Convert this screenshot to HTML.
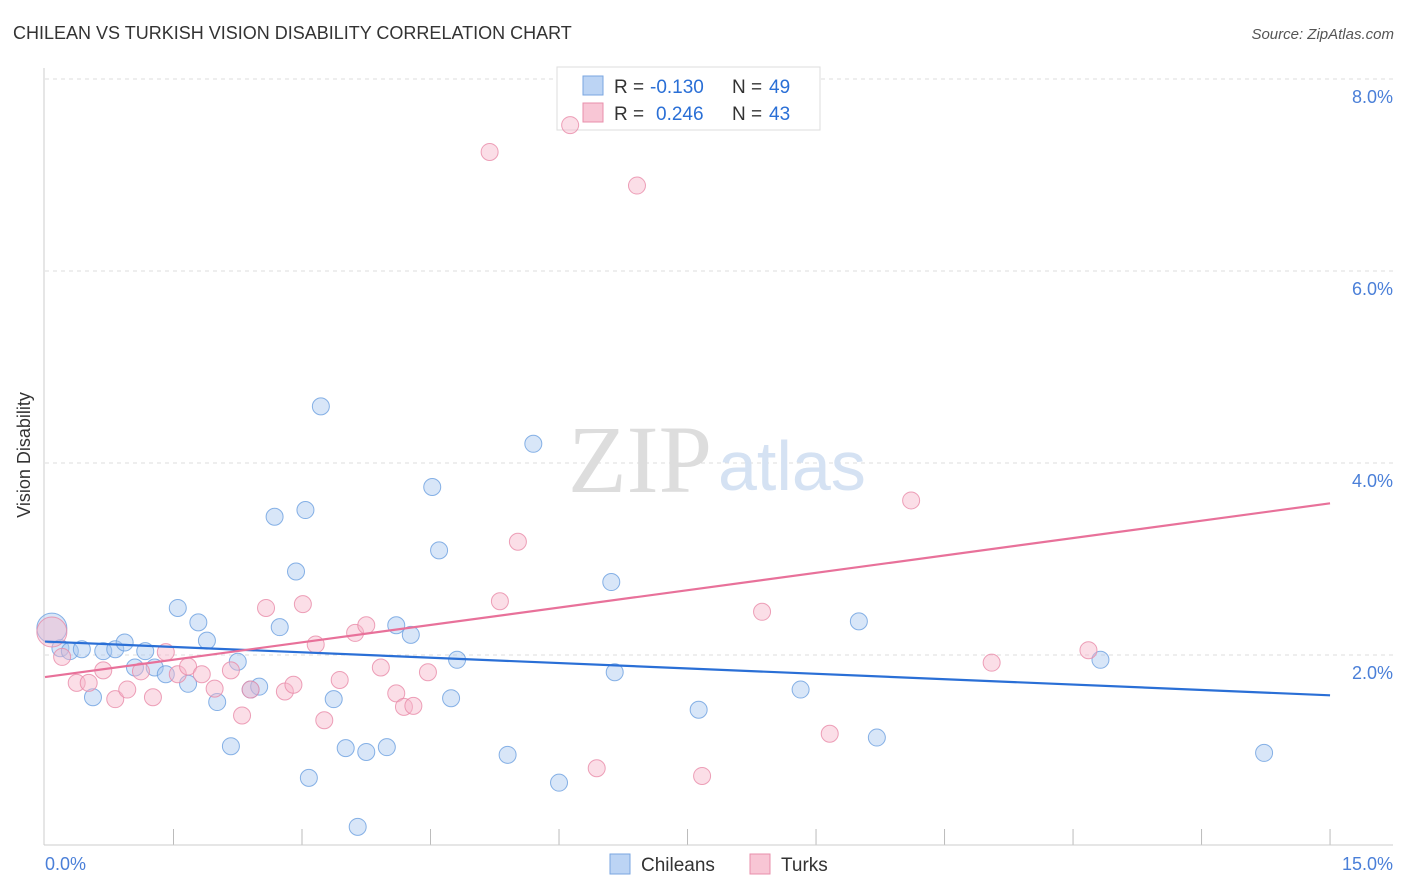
<!DOCTYPE html>
<html><head><meta charset="utf-8"><style>
body{margin:0;background:#fff;font-family:"Liberation Sans",sans-serif;}
svg{display:block}
</style></head><body>
<svg width="1406" height="892">
<text x="13" y="39" font-size="18" fill="#333">CHILEAN VS TURKISH VISION DISABILITY CORRELATION CHART</text>
<text x="1394" y="39" font-size="15" fill="#555" text-anchor="end" font-style="italic">Source: ZipAtlas.com</text>
<g id="grid"></g>
<text x="712" y="492" font-size="96" font-family="Liberation Serif,serif" fill="#ddd" text-anchor="end">ZIP</text>
<text x="718" y="490" font-size="70" fill="#d5e2f3">atlas</text>
<line x1="44" y1="68" x2="44" y2="845" stroke="#ccc"/>
<line x1="44" y1="845" x2="1393" y2="845" stroke="#ccc"/>
<text x="30" y="455" font-size="18" fill="#333" text-anchor="middle" transform="rotate(-90 30 455)">Vision Disability</text>
<text x="45" y="870" font-size="18" fill="#4a7fd8">0.0%</text>
<text x="1393" y="870" font-size="18" fill="#4a7fd8" text-anchor="end">15.0%</text>
<g>
<rect x="557" y="67" width="263" height="63" fill="#fff" stroke="#ddd"/>
<rect x="583" y="76" width="20" height="19" fill="#bcd4f4" stroke="#7aa6e0"/>
<rect x="583" y="103" width="20" height="19" fill="#f8c6d5" stroke="#e88fab"/>
<text x="614" y="93" font-size="19" fill="#333">R =</text>
<text x="650" y="93" font-size="19" fill="#2a6fd6">-0.130</text>
<text x="732" y="93" font-size="19" fill="#333">N =</text>
<text x="769" y="93" font-size="19" fill="#2a6fd6">49</text>
<text x="614" y="120" font-size="19" fill="#333">R =</text>
<text x="656" y="120" font-size="19" fill="#2a6fd6">0.246</text>
<text x="732" y="120" font-size="19" fill="#333">N =</text>
<text x="769" y="120" font-size="19" fill="#2a6fd6">43</text>
</g>
<g id="pts"></g>
<g id="lines"></g>
<g>
<rect x="610" y="854" width="20" height="20" fill="#bcd4f4" stroke="#7aa6e0"/>
<text x="641" y="871" font-size="19" fill="#333">Chileans</text>
<rect x="750" y="854" width="20" height="20" fill="#f8c6d5" stroke="#e88fab"/>
<text x="781" y="871" font-size="19" fill="#333">Turks</text>
</g>
</svg>
<script>
const yTicks=[2,4,6,8];
const xTicks=[1.5,3,4.5,6,7.5,9,10.5,12,13.5,15];
const blueX=[0.08,0.18,0.29,0.43,0.68,0.82,0.93,1.17,1.05,1.28,1.41,1.67,0.56,1.55,1.79,1.89,2.01,2.17,2.25,2.40,2.50,2.68,2.74,2.93,3.04,3.08,3.22,3.37,3.51,3.65,3.75,3.99,4.10,4.27,4.52,4.60,4.74,4.81,5.40,5.70,6.00,6.61,6.65,7.63,8.82,9.50,9.71,12.32,14.23];
const blueY=[2.28,2.07,2.04,2.06,2.04,2.06,2.13,2.04,1.87,1.87,1.80,1.70,1.56,2.49,2.34,2.15,1.51,1.05,1.93,1.64,1.67,3.44,2.29,2.87,3.51,0.72,4.59,1.54,1.03,0.21,0.99,1.04,2.31,2.21,3.75,3.09,1.55,1.95,0.96,4.20,0.67,2.76,1.82,1.43,1.64,2.35,1.14,1.95,0.98];
const pinkX=[0.08,0.20,0.37,0.51,0.68,0.82,0.96,1.12,1.26,1.41,1.55,1.67,1.83,1.98,2.17,2.30,2.40,2.58,2.80,2.90,3.01,3.16,3.26,3.44,3.62,3.75,3.92,4.10,4.19,4.30,4.47,5.19,5.31,5.52,6.13,6.44,6.91,7.67,8.37,9.16,10.11,11.05,12.18];
const pinkY=[2.24,1.98,1.71,1.71,1.84,1.54,1.64,1.83,1.56,2.03,1.80,1.88,1.80,1.65,1.84,1.37,1.64,2.49,1.62,1.69,2.53,2.11,1.32,1.74,2.23,2.31,1.87,1.60,1.46,1.47,1.82,7.24,2.56,3.18,7.52,0.82,6.89,0.74,2.45,1.18,3.61,1.92,2.05];
const blueLine=[2.14,1.58];
const pinkLine=[1.77,3.58];
const X=v=>45+v*85.67, Y=v=>847-v*96;
const NS='http://www.w3.org/2000/svg';
function mk(t,a,p){const e=document.createElementNS(NS,t);for(const k in a)e.setAttribute(k,a[k]);p.appendChild(e);return e;}
const grid=document.getElementById('grid');
yTicks.forEach(v=>{
 const l=mk('line',{x1:45,x2:1393,y1:Y(v),y2:Y(v),stroke:'#ddd','stroke-dasharray':'4 4'},grid);
 
 
 const t=mk('text',{x:1393,y:Y(v)+24,'font-size':18,fill:'#4a7fd8','text-anchor':'end'},grid);
 t.textContent=v.toFixed(1)+'%';
 
 
});
xTicks.forEach(v=>{
 const l=mk('line',{x1:X(v),x2:X(v),y1:829,y2:845,stroke:'#bbb'},grid);
 
 
});
const pts=document.getElementById('pts');
function series(xs,ys,fill,stroke,name){
 xs.forEach((x,i)=>{
  const c=mk('circle',{cx:X(x),cy:Y(ys[i]),r:i==0?15:8.5,fill:fill,'fill-opacity':0.45,stroke:stroke,'stroke-opacity':0.8,'stroke-width':1},pts);
  
  
 });
}
series(blueX,blueY,'#a9c7f0','#6a9fe0','chilean-point');
series(pinkX,pinkY,'#f6b6ca','#e98aa8','turkish-point');
const lines=document.getElementById('lines');
let bl=mk('line',{x1:X(0),x2:X(15),y1:Y(blueLine[0]),y2:Y(blueLine[1]),stroke:'#2a6fd6','stroke-width':2.2},lines);


let pl=mk('line',{x1:X(0),x2:X(15),y1:Y(pinkLine[0]),y2:Y(pinkLine[1]),stroke:'#e8719a','stroke-width':2.2},lines);


</script>
</body></html>
